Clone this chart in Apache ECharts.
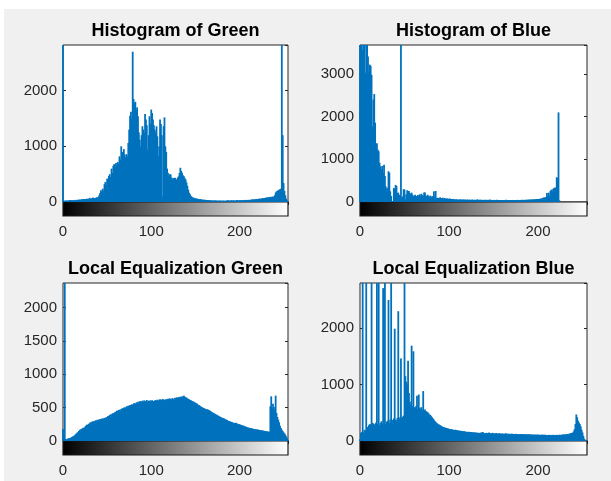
<!DOCTYPE html>
<html><head><meta charset="utf-8">
<script src="https://cdn.jsdelivr.net/npm/echarts@6/dist/echarts.min.js"></script>
<style>html,body{margin:0;padding:0;background:#fff}#c{width:611px;height:481px}</style>
</head><body><div id="c"></div>
<script>
// ---- data ----
const panelTitles = ['Histogram of Green', 'Histogram of Blue', 'Local Equalization Green', 'Local Equalization Blue'];
const xTickLabels = [0, 100, 200];
const yMaxima = [2820, 3680, 2370, 2800];
const yIntervals = [1000, 1000, 500, 1000];

const greenCounts = [
4000,25,20,28,22,30,26,24,35,30,
28,32,26,38,30,34,40,36,45,38,
42,50,44,55,48,52,46,60,55,50,
75,62,58,70,80,65,72,68,85,78,
90,120,160,210,180,240,200,320,360,300,
420,380,470,500,450,600,520,650,680,620,
700,660,720,690,820,760,1000,900,880,950,
850,800,860,820,1060,1300,1550,1620,1500,2700,
1850,1780,1800,1660,1700,1540,1250,1120,1000,1200,
1360,1300,1240,1580,1480,1380,940,1200,1540,1400,
1660,1600,1480,1380,1300,1250,1360,1180,820,1000,
1480,1400,1200,100,1360,1520,1000,900,600,525,
465,500,495,440,405,430,420,435,410,400,
440,460,520,615,560,525,480,465,430,405,
350,290,220,167,140,107,95,80,78,70,
65,60,62,55,50,48,52,45,40,42,
38,40,35,32,36,30,34,28,30,26,
28,25,30,27,24,26,22,25,28,24,
22,26,24,20,25,23,28,30,26,24,
27,32,25,28,30,24,26,35,30,28,
32,28,35,30,26,34,38,30,36,32,
40,35,38,45,40,48,42,50,46,55,
52,48,60,58,62,55,70,65,72,68,
80,75,85,78,90,82,95,88,100,92,
120,170,190,200,210,220,230,240,4000,1200,
340,200,120,60,30,10
];

const blueCounts = [
4500,4500,4500,3570,4500,4500,3030,4500,4500,3410,
3030,3220,3190,2980,1770,2400,2530,1860,1300,1380,
1230,1190,920,835,765,845,680,875,610,367,
300,330,720,690,250,140,15,20,330,300,
400,375,210,220,170,140,4500,100,130,300,
290,62,180,275,258,258,210,180,220,170,
140,150,170,140,130,165,140,180,150,195,
160,140,220,225,150,130,170,140,120,150,
130,110,140,250,120,258,90,100,95,80,
110,85,90,100,75,95,80,78,85,70,
75,80,65,70,72,60,68,55,62,58,
60,52,58,65,50,55,62,48,57,53,
50,60,46,55,52,48,58,50,45,54,
48,52,62,45,50,56,47,53,44,50,
46,55,42,48,52,45,58,43,49,47,
44,50,41,47,53,42,46,40,48,45,
43,47,40,45,50,42,44,48,41,46,
45,42,48,44,40,47,43,50,45,42,
48,44,52,46,50,45,55,48,52,58,
50,56,60,54,62,58,65,60,70,64,
72,68,78,74,85,90,100,110,95,120,
210,140,220,150,260,290,250,310,320,340,
330,580,560,2100,40,0,0,0,0,0,
0,0,0,0,0,0,0,0,0,0,
0,0,0,0,0,0,0,0,0,0,
0,0,0,0,0,0
];

const localGreenCounts = [
180,150,4000,30,25,32,38,42,45,50,
60,68,72,85,95,110,125,130,150,165,
175,180,190,200,195,215,230,245,240,255,
265,280,275,290,295,285,300,310,305,318,
320,312,330,325,335,340,330,348,345,355,
360,375,370,390,400,395,410,420,415,435,
440,455,448,465,470,460,480,490,485,500,
505,498,520,515,530,525,540,535,550,545,
560,570,555,575,580,590,570,595,600,585,
605,590,610,600,595,615,590,605,600,610,
595,612,600,590,608,615,600,620,605,618,
625,610,620,630,615,622,610,628,620,635,
625,640,630,620,645,632,625,650,640,655,
645,660,650,665,655,670,660,680,665,655,
650,640,630,625,615,610,600,595,590,580,
575,565,560,545,540,530,520,510,505,495,
490,485,480,470,475,465,460,450,440,430,
425,415,410,400,395,385,380,370,365,355,
350,345,340,335,325,320,315,305,300,295,
290,285,280,275,270,268,272,262,258,250,
252,245,240,235,230,228,222,215,210,205,
200,198,195,190,188,185,182,180,178,175,
172,170,168,165,160,162,158,155,152,150,
148,145,142,140,138,520,670,480,560,510,
470,680,420,360,320,280,230,195,170,150,
130,115,95,70,45,20
];

const localBlueCounts = [
30,140,160,4000,150,200,180,4000,250,230,
280,300,290,4000,320,310,280,300,330,4000,
300,4000,280,320,350,310,2710,330,4000,300,
340,360,2500,320,380,4000,350,370,400,1990,
380,360,410,2300,390,420,1460,400,430,450,
4000,1150,1050,1000,1420,850,700,650,1690,620,
1590,600,580,620,800,560,825,590,570,600,
550,885,540,560,530,520,510,490,470,460,
440,420,400,380,355,340,320,310,295,290,
280,270,260,250,245,240,235,230,225,220,
215,210,205,210,200,198,195,200,192,190,
188,185,180,182,175,178,170,172,168,165,
162,160,165,158,155,160,152,150,155,148,
150,145,148,142,145,140,150,145,160,142,
140,135,145,138,142,150,136,132,140,145,
135,130,138,142,128,135,132,140,126,130,
134,128,125,132,136,124,130,127,122,129,
125,130,120,126,122,128,118,124,121,116,
123,119,125,115,120,117,122,114,118,120,
112,118,115,110,116,113,108,115,112,110,
114,108,112,106,110,115,105,109,112,104,
108,102,110,106,100,108,104,110,102,106,
104,110,100,106,112,105,108,115,110,118,
112,120,115,125,118,130,128,140,140,150,
170,210,300,470,420,360,330,300,260,200,
150,90,40,20,10,0
];

const seriesCounts = [greenCounts, blueCounts, localGreenCounts, localBlueCounts];

// ---- layout ----
const layout = [
  {left: 63, top: 45, width: 225, height: 157},
  {left: 360, top: 45, width: 227, height: 157},
  {left: 63, top: 283, width: 225, height: 158},
  {left: 360, top: 283, width: 227, height: 158}
];
const CB_H = 14;
const FONT = 'Liberation Sans, Arial, Helvetica, sans-serif';
const AX = '#262626';

const grid = [], xAxis = [], yAxis = [], series = [], title = [];
layout.forEach((L, k) => {
  const gH = grid.length;
  grid.push({left: L.left, top: L.top, width: L.width, height: L.height, show: true,
    backgroundColor: '#fff', borderColor: AX, borderWidth: 1, containLabel: false});
  const gC = grid.length;
  grid.push({left: L.left, top: L.top + L.height, width: L.width, height: CB_H, show: false});

  const tickStyle = {show: true, inside: true, length: 3, lineStyle: {color: AX, width: 1}};
  const xH = xAxis.length;
  xAxis.push({type: 'value', gridIndex: gH, position: 'top', min: 0, max: 255, interval: 100,
    axisLine: {show: false}, axisTick: tickStyle, axisLabel: {show: false}, splitLine: {show: false}});
  const xC = xAxis.length;
  xAxis.push({type: 'value', gridIndex: gC, position: 'bottom', min: 0, max: 255, interval: 100,
    axisLine: {show: false}, axisTick: tickStyle, splitLine: {show: false},
    axisLabel: {show: true, margin: 8, color: AX, fontSize: 15, fontFamily: FONT,
      showMaxLabel: false,
      formatter: v => (xTickLabels.indexOf(v) >= 0 ? String(v) : '')}});
  xAxis.push({type: 'value', gridIndex: gC, position: 'top', min: 0, max: 255, interval: 100,
    axisLine: {show: false}, axisTick: tickStyle, axisLabel: {show: false}, splitLine: {show: false}});

  const yI = yIntervals[k];
  const yH = yAxis.length;
  yAxis.push({type: 'value', gridIndex: gH, position: 'left', min: 0, max: yMaxima[k], interval: yI,
    axisLine: {show: false}, axisTick: tickStyle, splitLine: {show: false},
    axisLabel: {show: true, margin: 6, color: AX, fontSize: 15, fontFamily: FONT,
      showMaxLabel: false,
      formatter: v => (v % yI === 0 ? String(v) : '')}});
  yAxis.push({type: 'value', gridIndex: gH, position: 'right', min: 0, max: yMaxima[k], interval: yI,
    axisLine: {show: false}, axisTick: tickStyle, axisLabel: {show: false}, splitLine: {show: false}});
  const yC = yAxis.length;
  yAxis.push({type: 'value', gridIndex: gC, min: 0, max: 1, show: false});

  series.push({type: 'bar', xAxisIndex: xH, yAxisIndex: yH, barWidth: 1.8, clip: true,
    silent: true, animation: false, itemStyle: {color: '#0072BD', borderWidth: 0},
    data: seriesCounts[k].map((v, i) => [i, v])});

  series.push({type: 'custom', xAxisIndex: xC, yAxisIndex: yC, silent: true, animation: false,
    data: [[0, 255]],
    renderItem: (params, api) => {
      const p0 = api.coord([0, 1]);
      const p1 = api.coord([255, 0]);
      return {type: 'rect',
        shape: {x: p0[0], y: p0[1], width: p1[0] - p0[0], height: p1[1] - p0[1]},
        style: {fill: new echarts.graphic.LinearGradient(0, 0, 1, 0,
          [{offset: 0, color: '#000'}, {offset: 1, color: '#fff'}]),
          stroke: '#1a1a1a', lineWidth: 1.2}};
    }});

  title.push({text: panelTitles[k], left: L.left + L.width / 2, top: L.top - 23, textAlign: 'center',
    padding: 0, textStyle: {fontSize: 18, fontWeight: 'bold', color: '#000', fontFamily: FONT}});
});

const chart = echarts.init(document.getElementById('c'), null, {renderer: 'canvas'});
chart.setOption({
  animation: false,
  backgroundColor: '#fff',
  graphic: [{type: 'rect', z: -10, silent: true, shape: {x: 4, y: 9, width: 607, height: 472},
    style: {fill: '#f0f0f0'}}],
  title, grid, xAxis, yAxis, series
});
</script></body></html>
